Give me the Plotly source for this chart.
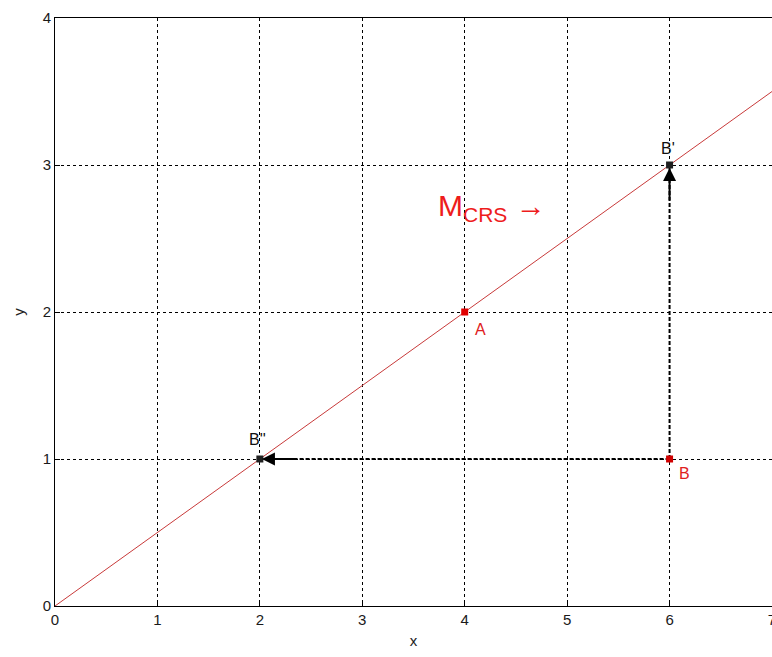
import plotly.graph_objects as go

# data
line_x = [0, 7]
line_y = [0, 3.5]
pt_names = ["A", "B", "B'", "B''"]
pt_x = [4, 6, 6, 2]
pt_y = [2, 1, 3, 1]
x_ticks = [0, 1, 2, 3, 4, 5, 6, 7]
y_ticks = [0, 1, 2, 3, 4]

fig = go.Figure()

# CRS line
fig.add_trace(go.Scatter(x=line_x, y=line_y, mode="lines",
                         line=dict(color="#c83a3a", width=1), hoverinfo="skip"))

# dashed arrows from B
fig.add_trace(go.Scatter(x=[pt_x[1], pt_x[2]], y=[pt_y[1], pt_y[2]], mode="lines",
                         line=dict(color="black", width=2, dash="4px,2px")))
fig.add_trace(go.Scatter(x=[pt_x[1], pt_x[3]], y=[pt_y[1], pt_y[3]], mode="lines",
                         line=dict(color="black", width=2, dash="4px,2px")))

# points
fig.add_trace(go.Scatter(x=pt_x, y=pt_y, mode="markers",
                         marker=dict(symbol="square", size=7,
                                     color=["#e00000", "#d00000", "#202020", "#202020"])))

# arrowheads
fig.add_annotation(x=pt_x[2], y=pt_y[2] - 0.02, ax=pt_x[2], ay=pt_y[2] - 0.25,
                   xref="x", yref="y", axref="x", ayref="y", text="",
                   showarrow=True, arrowhead=2, arrowsize=1.3, arrowwidth=2, arrowcolor="black")
fig.add_annotation(x=pt_x[3] + 0.02, y=pt_y[3], ax=pt_x[3] + 0.35, ay=pt_y[3],
                   xref="x", yref="y", axref="x", ayref="y", text="",
                   showarrow=True, arrowhead=2, arrowsize=1.3, arrowwidth=2, arrowcolor="black")

# labels
lab_font = dict(family="Liberation Sans, Arial", size=16)
fig.add_annotation(x=5.98, y=3.11, text="B'", showarrow=False, bgcolor="rgba(0,0,0,0)",
                   font=dict(lab_font, color="#111111"))
fig.add_annotation(x=1.98, y=1.13, text="B''", showarrow=False, font=dict(lab_font, color="#111111"))
fig.add_annotation(x=4.15, y=1.88, text="A", showarrow=False, font=dict(lab_font, color="#e02020"))
fig.add_annotation(x=6.15, y=0.90, text="B", showarrow=False, font=dict(lab_font, color="#e02020"))
fig.add_annotation(x=4.27, y=2.71, text="M<sub>CRS</sub> \u2192", showarrow=False,
                   font=dict(family="Liberation Sans, Arial", size=30, color="#ee1c1c"))

axis_common = dict(showline=True, linecolor="black", linewidth=1, mirror=True,
                   ticks="inside", ticklen=5, tickcolor="black",
                   showgrid=True, gridcolor="black", gridwidth=1, griddash="3px,3px",
                   zeroline=False, automargin=False, ticklabeloverflow="allow",
                   tickfont=dict(family="Liberation Sans, Arial", size=15, color="#1a1a1a"),
                   title_font=dict(family="Liberation Sans, Arial", size=15, color="#222222"))

fig.update_xaxes(range=[0, 7], tickvals=x_ticks, title_text="x", title_standoff=8, **axis_common)
fig.update_yaxes(range=[0, 4], tickvals=y_ticks, title_text="y", title_standoff=14, **axis_common)

fig.update_layout(width=772, height=657, showlegend=False,
                  margin=dict(l=55, r=0, t=18, b=51),
                  plot_bgcolor="white", paper_bgcolor="white")

# remove the default page margin so the figure fills the 772x657 window
fig.write_html("out.html", config={"displayModeBar": False},
               post_script="document.body.style.margin='0';document.body.style.overflow='hidden';")
